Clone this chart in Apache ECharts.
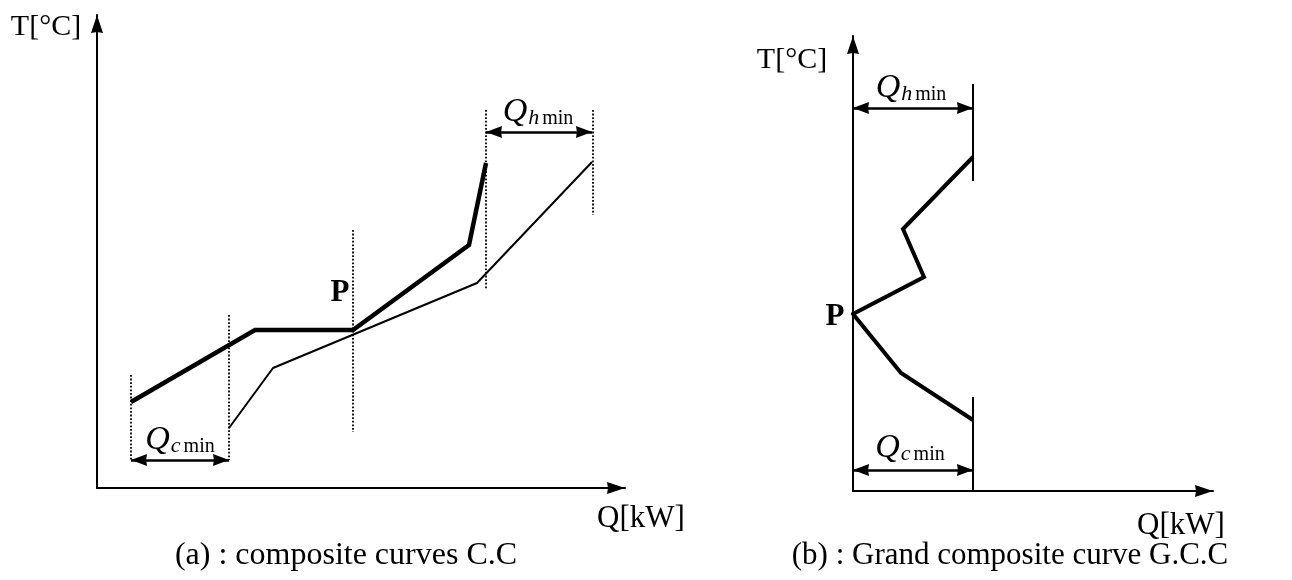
<!DOCTYPE html>
<html><head><meta charset="utf-8">
<script src="https://cdn.jsdelivr.net/npm/echarts@6/dist/echarts.min.js"></script>
<style>html,body{margin:0;padding:0;background:#fff}#c{width:1292px;height:580px}</style>
</head><body><div id="c"></div>
<script>
// ---- (a) composite curves ----
const hotQ = [34, 158, 256, 372, 389];
const hotT = [86, 158, 158, 243, 325];
const coldQ = [132, 176, 380, 495];
const coldT = [60, 120, 205, 326];
const guideQ = [34, 132, 256, 389, 496];
const guideTop = [113, 173, 258, 378, 378];
const guideBottom = [28, 28, 56, 198, 273];
const qcArrowA = [[34, 28], [132, 28]];
const qhArrowA = [[389, 356], [495, 356]];
// ---- (b) grand composite curve ----
const gccQ = [120, 50, 71, 0, 48, 120];
const gccT = [334, 262, 214, 177, 118, 71];
const limitQ = 120;
const limitSegs = [[407, 310], [94, 0]];
const qhArrowB = [[0, 383], [120, 383]];
const qcArrowB = [[0, 21], [120, 21]];

const FONT = '"Liberation Serif","Times New Roman",serif';
const HEAD = 'path://M0,0L6,18L0,17L-6,18Z';
const zip = (a, b) => a.map((v, i) => [v, b[i]]);

function axis(max, xy) {
  return {
    type: 'value', min: 0, max: max, gridIndex: xy,
    axisLine: { show: true, onZero: false, symbol: ['none', HEAD], symbolSize: [12, 18],
      symbolOffset: [0, -9],
      lineStyle: { color: '#000', width: 2 } },
    axisTick: { show: false }, axisLabel: { show: false }, splitLine: { show: false }
  };
}
const base = { type: 'line', symbol: 'none', animation: false, silent: true, clip: false };
const series = [];
series.push(Object.assign({}, base, { xAxisIndex: 0, yAxisIndex: 0, data: zip(hotQ, hotT),
  lineStyle: { color: '#000', width: 4.5, join: 'miter' } }));
series.push(Object.assign({}, base, { xAxisIndex: 0, yAxisIndex: 0, data: zip(coldQ, coldT),
  lineStyle: { color: '#000', width: 2 } }));
guideQ.forEach((q, i) => {
  series.push(Object.assign({}, base, { xAxisIndex: 0, yAxisIndex: 0,
    data: [[q, guideTop[i]], [q, guideBottom[i]]],
    lineStyle: { color: '#000', width: 1.8, type: [1.8, 1.8] } }));
});
function arrows(xi, list) {
  return Object.assign({}, base, { xAxisIndex: xi, yAxisIndex: xi, data: [],
    markLine: { silent: true, animation: false, symbol: [HEAD, HEAD], symbolSize: [12, 16],
      symbolOffset: [[0, 8], [0, 8]],
      label: { show: false }, lineStyle: { color: '#000', width: 2.5, type: 'solid' },
      emphasis: { disabled: true },
      data: list.map(a => [{ coord: a[0] }, { coord: a[1] }]) } });
}
series.push(arrows(0, [qcArrowA, qhArrowA]));
series.push(Object.assign({}, base, { xAxisIndex: 1, yAxisIndex: 1, data: zip(gccQ, gccT),
  lineStyle: { color: '#000', width: 4, join: 'miter' } }));
limitSegs.forEach(s => {
  series.push(Object.assign({}, base, { xAxisIndex: 1, yAxisIndex: 1,
    data: [[limitQ, s[0]], [limitQ, s[1]]], lineStyle: { color: '#000', width: 2 } }));
});
series.push(arrows(1, [qhArrowB, qcArrowB]));

function txt(x, y, text, size, weight) {
  return { type: 'text', x: x, y: y, silent: true,
    style: { text: text, font: (weight ? weight + ' ' : '') + size + 'px ' + FONT, fill: '#000',
      textAlign: 'center', textVerticalAlign: 'middle' } };
}
function qlabel(x, y, sub) {
  return { type: 'text', x: x, y: y, silent: true,
    style: { text: '{q|Q}{s|' + sub + '}{m|min}', fill: '#000', textAlign: 'center', textVerticalAlign: 'bottom',
      rich: {
        q: { fontFamily: FONT, fontStyle: 'italic', fontSize: 34, verticalAlign: 'bottom', lineHeight: 36 },
        s: { fontFamily: FONT, fontStyle: 'italic', fontSize: 22, verticalAlign: 'bottom', lineHeight: 27, padding: [0, 3, 0, 1] },
        m: { fontFamily: FONT, fontSize: 20, verticalAlign: 'bottom', lineHeight: 27 }
      } } };
}

const chart = echarts.init(document.getElementById('c'), null, { renderer: 'canvas' });
chart.setOption({
  backgroundColor: '#fff', animation: false,
  grid: [
    { left: 97, top: 15, width: 528, height: 473 },
    { left: 853, top: 36, width: 360, height: 455 }
  ],
  xAxis: [axis(528, 0), axis(360, 1)],
  yAxis: [axis(473, 0), axis(455, 1)],
  series: series,
  graphic: [
    txt(46, 27, 'T[°C]', 30),
    txt(641, 519, 'Q[kW]', 31),
    txt(340, 293, 'P', 31, 'bold'),
    qlabel(180, 457, 'c'),
    qlabel(538, 129, 'h'),
    txt(792, 60, 'T[°C]', 30),
    txt(1181, 526, 'Q[kW]', 31),
    txt(835, 317, 'P', 31, 'bold'),
    qlabel(911, 105, 'h'),
    qlabel(910, 465, 'c'),
    txt(346, 556, '(a) : composite curves C.C', 32),
    txt(1010, 556, '(b) : Grand composite curve G.C.C', 31)
  ]
});
</script></body></html>
